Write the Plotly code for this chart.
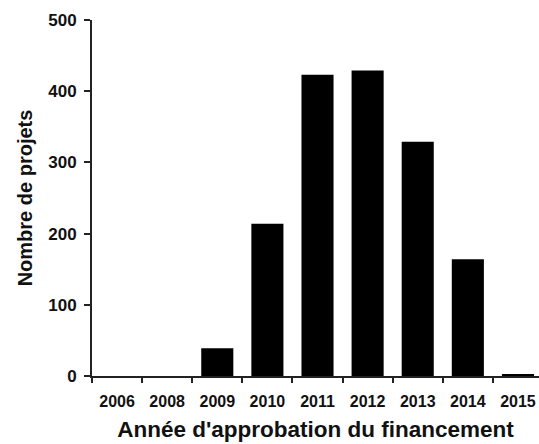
import plotly.graph_objects as go

years = ["2006", "2008", "2009", "2010", "2011", "2012", "2013", "2014", "2015"]
projects = [0, 0, 39, 214, 423, 429, 329, 164, 2]
y_ticks = [0, 100, 200, 300, 400, 500]

fig = go.Figure(go.Bar(
    x=years, y=projects,
    marker=dict(color="black", line=dict(width=0)),
))

fig.update_layout(
    width=539, height=444,
    margin=dict(l=92, r=0, t=20, b=68),
    plot_bgcolor="white", paper_bgcolor="white",
    bargap=0.36,
    showlegend=False,
    font=dict(family="Liberation Sans, Arial", color="#111"),
)
fig.update_xaxes(
    type="category",
    range=[-0.5, 8.42],
    showline=True, linecolor="#222", linewidth=2,
    ticks="outside", tickson="boundaries", ticklen=5, tickwidth=2, tickcolor="#222",
    tickfont=dict(size=16, weight="bold"),
    ticklabelstandoff=10,
    title=dict(text="Année d'approbation du financement",
               font=dict(size=22.5, weight="bold"), standoff=12),
    showgrid=False,
)
fig.update_yaxes(
    range=[0, 500],
    tickvals=y_ticks,
    showline=True, linecolor="#222", linewidth=2,
    ticks="outside", ticklen=6, tickwidth=2, tickcolor="#222",
    tickfont=dict(size=17, weight="bold"),
    ticklabelstandoff=4,
    title=dict(text="Nombre de projets", font=dict(size=20, weight="bold"), standoff=10),
    showgrid=False, zeroline=False,
)

# remove the default page margin so the 539x444 figure fills the window exactly
fig.write_html("out.html", config={"displayModeBar": False},
               post_script="document.body.style.margin='0';")
